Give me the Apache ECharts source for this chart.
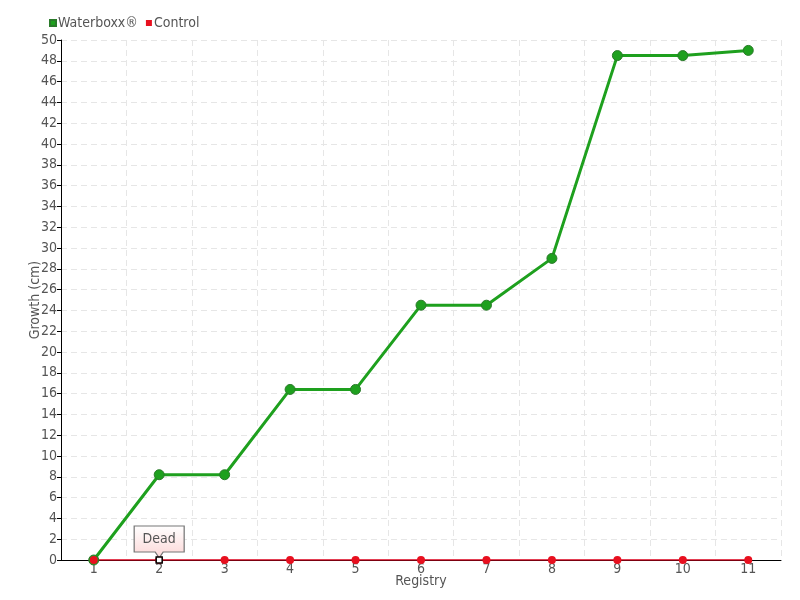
<!DOCTYPE html>
<html><head><meta charset="utf-8">
<script src="https://cdn.jsdelivr.net/npm/echarts@6/dist/echarts.min.js"></script>
<style>html,body{margin:0;padding:0;background:#fff}#c{width:800px;height:600px}</style>
</head><body><div id="c"></div>
<script>
const categories = ['1','2','3','4','5','6','7','8','9','10','11'];
const waterboxx = [0, 8.2, 8.2, 16.4, 16.4, 24.5, 24.5, 29, 48.5, 48.5, 49];
const control = [0, 0, 0, 0, 0, 0, 0, 0, 0, 0, 0];
const deadIndex = 1;
const deadLabel = 'Dead';

const FONT = "'DejaVu Sans'";
const FW = 'normal condensed';
const TS = { fontFamily: FONT, fontWeight: FW, fontSize: 14, color: '#555' };
const chart = echarts.init(document.getElementById('c'));
chart.setOption({
  animation: false,
  textStyle: { fontFamily: FONT },
  legend: {
    left: 44, top: 11, itemWidth: 6, itemHeight: 6, itemGap: 8,
    icon: 'rect',
    textStyle: Object.assign({}, TS, { padding: [0,0,0,-3] }),
    data: ['Waterboxx®', 'Control']
  },
  grid: { left: 61, right: 19, top: 40, bottom: 40 },
  xAxis: {
    type: 'category', data: categories, boundaryGap: true,
    name: 'Registry', nameLocation: 'middle', nameGap: 14, nameMoveOverlap: false,
    nameTextStyle: TS,
    axisLine: { lineStyle: { color: '#000', width: 1 } },
    axisTick: { show: false },
    axisLabel: Object.assign({}, TS, { margin: 2 }),
    splitLine: { show: true, interval: 0, lineStyle: { color: '#e6e6e6', type: [6, 4] } }
  },
  yAxis: {
    type: 'value', min: 0, max: 50, interval: 2,
    name: 'Growth (cm)', nameLocation: 'middle', nameGap: 19, nameMoveOverlap: false,
    nameTextStyle: TS,
    axisLine: { show: true, lineStyle: { color: '#000', width: 1 } },
    axisTick: { show: true, length: 4, lineStyle: { color: '#000' } },
    axisLabel: Object.assign({}, TS, { margin: 4 }),
    splitLine: { show: true, lineStyle: { color: '#e6e6e6', type: [6, 4] } }
  },
  series: [
    {
      name: 'Waterboxx®', type: 'line', data: waterboxx,
      color: '#1ea01e',
      lineStyle: { width: 3, color: '#1ea01e' },
      symbol: 'circle', symbolSize: 10,
      itemStyle: { color: '#1ea01e', borderColor: '#2a7a2a', borderWidth: 1 }
    },
    {
      name: 'Control', type: 'line', data: control,
      color: '#e8001c',
      lineStyle: { width: 1.5, color: '#dc001c' },
      symbol: 'circle', symbolSize: 8,
      itemStyle: { color: '#e8101f', borderWidth: 0 },
      markPoint: {
        silent: true,
        data: [
          { coord: [deadIndex, 0], symbol: 'path://M0,0 H50 V26 H29 L25,32 L21,26 H0 Z',
            symbolSize: [50, 32], symbolOffset: [0, -18],
            itemStyle: { color: new echarts.graphic.LinearGradient(0,0,0,1,[{offset:0,color:'#ffffff'},{offset:1,color:'#fcd6d6'}]), borderColor: '#777', borderWidth: 1 },
            label: { show: true, formatter: deadLabel, position: 'inside', offset: [0, -3], color: '#555', fontSize: 14, fontFamily: FONT, fontWeight: FW } },
          { coord: [deadIndex, 0], symbol: 'rect', symbolSize: 6,
            itemStyle: { color: '#fff', borderColor: '#000', borderWidth: 1.5 },
            label: { show: false } }
        ]
      }
    }
  ]
});
</script></body></html>
